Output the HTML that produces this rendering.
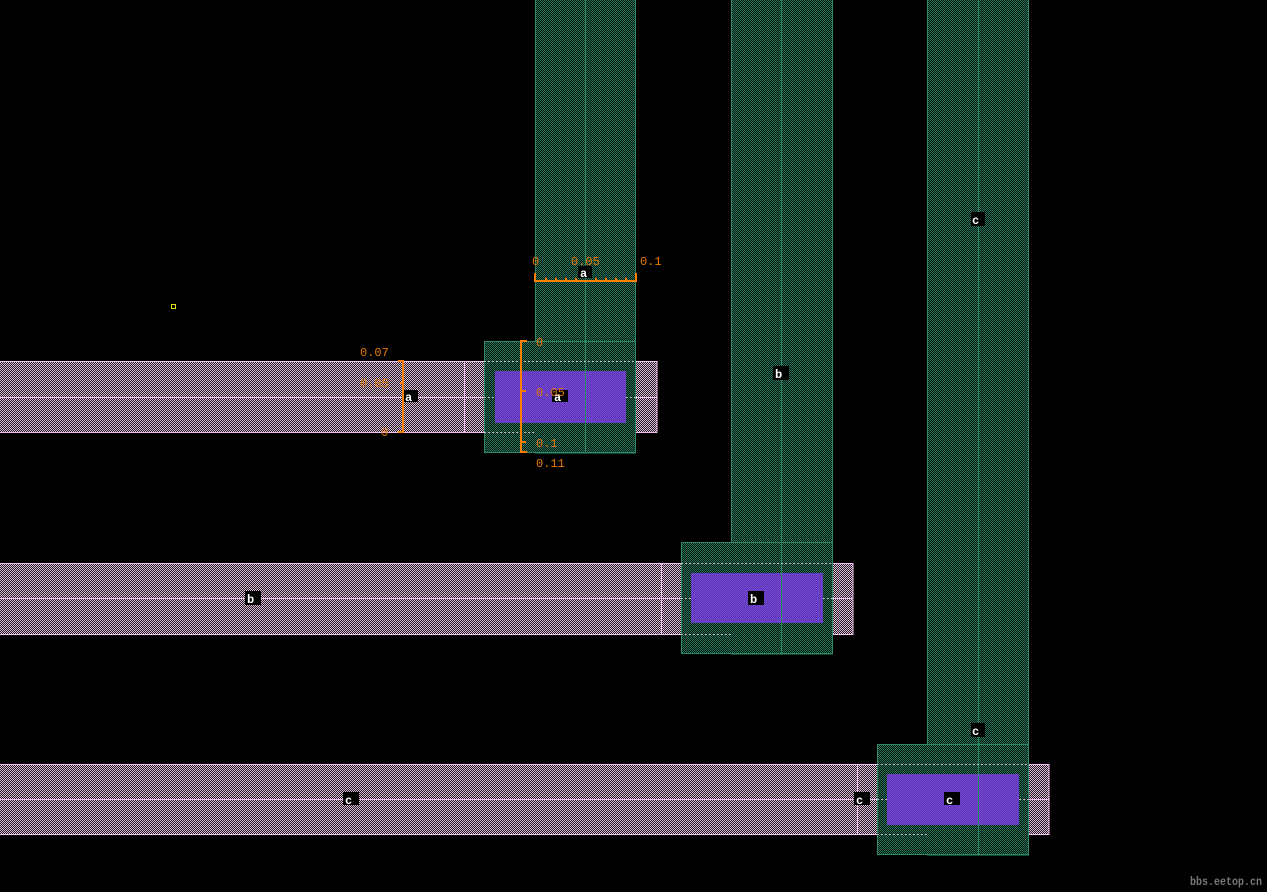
<!DOCTYPE html>
<html><head><style>
html,body{margin:0;padding:0;background:#000;width:1267px;height:892px;overflow:hidden}
svg{display:block}
text{font-family:"Liberation Mono",monospace;font-size:12px}
</style></head><body>
<svg width="1267" height="892" viewBox="0 0 1267 892" xmlns="http://www.w3.org/2000/svg">
<defs>
<pattern id="pk" width="2" height="2" patternUnits="userSpaceOnUse">
<rect width="2" height="2" fill="#201820"/><rect width="1" height="1" fill="#e0c0d8"/><rect x="1" y="1" width="1" height="1" fill="#e0c0d8"/>
</pattern>
<pattern id="gr" width="2" height="2" patternUnits="userSpaceOnUse">
<rect width="2" height="2" fill="#04140e"/><rect width="1" height="1" fill="#2a7458"/><rect x="1" y="1" width="1" height="1" fill="#2a7458"/>
</pattern>
<pattern id="pu" width="2" height="2" patternUnits="userSpaceOnUse">
<rect width="2" height="2" fill="#5236b0"/><rect width="1" height="1" fill="#8048d8"/><rect x="1" y="1" width="1" height="1" fill="#8048d8"/>
</pattern>
</defs>
<g stroke="#f0c0f0" stroke-width="1">
<rect x="-1" y="361.5" width="658" height="71" fill="url(#pk)"/>
<line x1="0" y1="397.5" x2="657" y2="397.5"/><line x1="464.5" y1="361" x2="464.5" y2="432"/>
<rect x="-1" y="563.5" width="854" height="71" fill="url(#pk)"/>
<line x1="0" y1="598.5" x2="853" y2="598.5"/><line x1="661.5" y1="563" x2="661.5" y2="634"/>
<rect x="-1" y="764.5" width="1050" height="70" fill="url(#pk)"/>
<line x1="0" y1="799.5" x2="1049" y2="799.5"/><line x1="857.5" y1="764" x2="857.5" y2="834"/>
</g>
<g stroke="#2a8a66" stroke-width="1">
<rect x="535.5" y="-1" width="100" height="454" fill="url(#gr)"/>
<rect x="484.5" y="341.5" width="151" height="111" fill="url(#gr)"/>
<rect x="731.5" y="-1" width="101" height="655" fill="url(#gr)"/>
<rect x="681.5" y="542.5" width="151" height="111" fill="url(#gr)"/>
<rect x="927.5" y="-1" width="101" height="856" fill="url(#gr)"/>
<rect x="877.5" y="744.5" width="151" height="110" fill="url(#gr)"/>
</g>
<rect x="495" y="371" width="131" height="52" fill="url(#pu)"/>
<rect x="691" y="573" width="132" height="50" fill="url(#pu)"/>
<rect x="887" y="774" width="132" height="51" fill="url(#pu)"/>
<g stroke="#2a8a66" stroke-width="1">
<line x1="585.5" y1="0" x2="585.5" y2="453"/>
<line x1="781.5" y1="0" x2="781.5" y2="654"/>
<line x1="978.5" y1="0" x2="978.5" y2="855"/>
</g>
<g stroke="#c8b0c8" stroke-dasharray="2,2">
<line x1="484" y1="361.5" x2="636" y2="361.5"/><line x1="484" y1="432.5" x2="535" y2="432.5"/>
<line x1="484" y1="397.5" x2="495" y2="397.5"/><line x1="626" y1="397.5" x2="636" y2="397.5"/>
<line x1="681" y1="563.5" x2="833" y2="563.5"/><line x1="681" y1="634.5" x2="731" y2="634.5"/>
<line x1="681" y1="598.5" x2="691" y2="598.5"/><line x1="823" y1="598.5" x2="833" y2="598.5"/>
<line x1="877" y1="764.5" x2="1029" y2="764.5"/><line x1="877" y1="834.5" x2="927" y2="834.5"/>
<line x1="877" y1="799.5" x2="887" y2="799.5"/><line x1="1019" y1="799.5" x2="1029" y2="799.5"/>
</g>
<g font-weight="bold" fill="#fff" font-size="13">
<rect x="552" y="390" width="16" height="12" fill="#000"/><text x="554" y="401" fill="#fff">a</text>
<rect x="404" y="390" width="14" height="12" fill="#000"/><text x="405" y="401" fill="#fff">a</text>
<rect x="578" y="266" width="14" height="12" fill="#000"/><text x="580" y="277" fill="#fff">a</text>
<rect x="748" y="591" width="16" height="14" fill="#000"/><text x="750" y="603" fill="#fff">b</text>
<rect x="245" y="591" width="16" height="14" fill="#000"/><text x="247" y="603" fill="#fff">b</text>
<rect x="773" y="366" width="16" height="14" fill="#000"/><text x="775" y="378" fill="#fff">b</text>
<rect x="944" y="792" width="16" height="13" fill="#000"/><text x="946" y="804" fill="#fff">c</text>
<rect x="343" y="792" width="16" height="13" fill="#000"/><text x="345" y="804" fill="#fff">c</text>
<rect x="854" y="792" width="16" height="13" fill="#000"/><text x="856" y="804" fill="#fff">c</text>
<rect x="971" y="212" width="14" height="14" fill="#000"/><text x="972" y="224" fill="#fff">c</text>
<rect x="971" y="723" width="14" height="14" fill="#000"/><text x="972" y="735" fill="#fff">c</text>
</g>
<g stroke="#ff8000" stroke-width="2" fill="none">
<path d="M535,273 V281 H636 V273"/>
<path d="M398,361 H403 V432 H398"/>
<path d="M527,341 H521 V452 H527"/>
</g>
<g fill="#ff8000">
<rect x="545" y="278" width="2" height="2"/><rect x="555" y="278" width="2" height="2"/><rect x="565" y="278" width="2" height="2"/><rect x="575" y="278" width="2" height="2"/><rect x="595" y="278" width="2" height="2"/><rect x="605" y="278" width="2" height="2"/><rect x="615" y="278" width="2" height="2"/><rect x="625" y="278" width="2" height="2"/>
<rect x="521" y="390" width="5" height="2"/><rect x="521" y="441" width="5" height="2"/><rect x="400" y="382" width="3" height="2"/>
</g>
<g fill="#e87800" font-size="12">
<text x="532" y="265">0</text><text x="571" y="265">0.05</text><text x="640" y="265">0.1</text>
<text x="360" y="356">0.07</text><text x="360" y="387">0.05</text><text x="381" y="436">0</text>
<text x="536" y="346">0</text><text x="536" y="396">0.05</text><text x="536" y="447">0.1</text><text x="536" y="467">0.11</text>
</g>
<rect x="171.5" y="304.5" width="4" height="4" fill="none" stroke="#e0e000"/>
<text x="1262" y="885" text-anchor="end" fill="#777" font-family="Liberation Sans,sans-serif" font-weight="bold" font-size="13" textLength="72" lengthAdjust="spacingAndGlyphs">bbs.eetop.cn</text>
</svg>
</body></html>
